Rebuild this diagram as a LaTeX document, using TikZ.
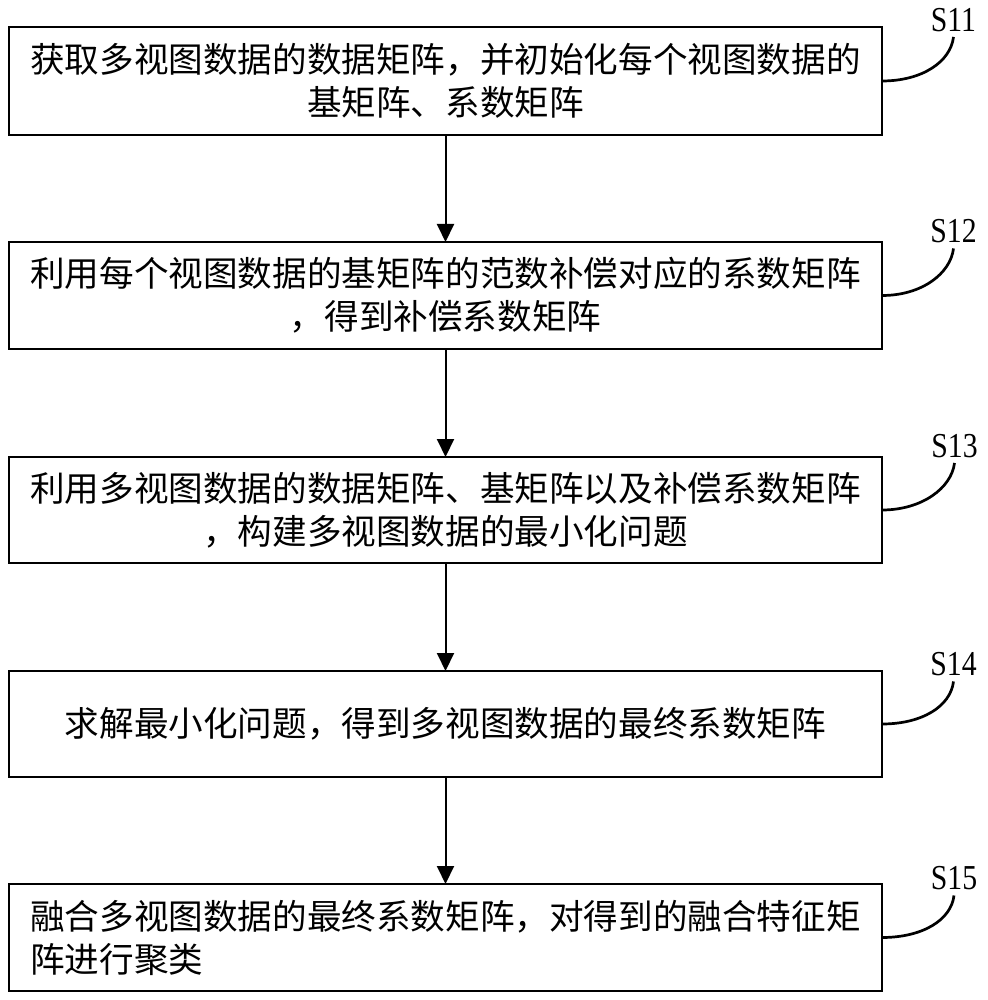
\documentclass[tikz,border=0pt]{standalone}
\usepackage{fontspec}
\newfontfamily\cjk{Noto Sans CJK SC}
\newfontfamily\slab[FakeStretch=0.85]{Liberation Serif}
\usetikzlibrary{arrows.meta}
\begin{document}
\begin{tikzpicture}[x=1pt,y=-1pt,
  stepbox/.style={draw=black,line width=2pt,minimum width=873pt,inner sep=0pt,outer sep=0pt,align=center,font=\cjk\fontsize{34.6}{43}\selectfont},
  steplab/.style={inner sep=5pt,font=\slab\fontsize{35}{35}\selectfont},
  flow/.style={line width=2pt,-{Triangle[length=18pt,width=17pt]}},
  leader/.style={line width=2.7pt}]
\useasboundingbox (0,0) rectangle (987,1000);
\node[stepbox,minimum height=108pt] (b1) at (445.5,81) {获取多视图数据的数据矩阵，并初始化每个视图数据的\\基矩阵、系数矩阵};
\node[stepbox,minimum height=107pt] (b2) at (445.5,295.5) {利用每个视图数据的基矩阵的范数补偿对应的系数矩阵\\，得到补偿系数矩阵};
\node[stepbox,minimum height=106pt] (b3) at (445.5,510) {利用多视图数据的数据矩阵、基矩阵以及补偿系数矩阵\\，构建多视图数据的最小化问题};
\node[stepbox,minimum height=106pt] (b4) at (445.5,724) {求解最小化问题，得到多视图数据的最终系数矩阵};
\node[stepbox,minimum height=107pt,align=left] (b5) at (445.5,937.5) {融合多视图数据的最终系数矩阵，对得到的融合特征矩\\阵进行聚类};
\node[steplab] (s1) at (953.5,20) {S11};
\node[steplab] (s2) at (953.5,231.5) {S12};
\node[steplab] (s3) at (954.5,446) {S13};
\node[steplab] (s4) at (953.5,664.5) {S14};
\node[steplab] (s5) at (954,878.5) {S15};
\draw[flow] (b1) -- (b2);
\draw[flow] (b2) -- (b3);
\draw[flow] (b3) -- (b4);
\draw[flow] (b4) -- (b5);
\draw[leader] (b1.east) .. controls +(40,0) and +(-3,25) .. (s1.south);
\draw[leader] (b2.east) .. controls +(40,0) and +(-3,25) .. (s2.south);
\draw[leader] (b3.east) .. controls +(40,0) and +(-3,25) .. (s3.south);
\draw[leader] (b4.east) .. controls +(40,0) and +(-3,25) .. (s4.south);
\draw[leader] (b5.east) .. controls +(40,0) and +(-3,25) .. (s5.south);
\end{tikzpicture}
\end{document}
